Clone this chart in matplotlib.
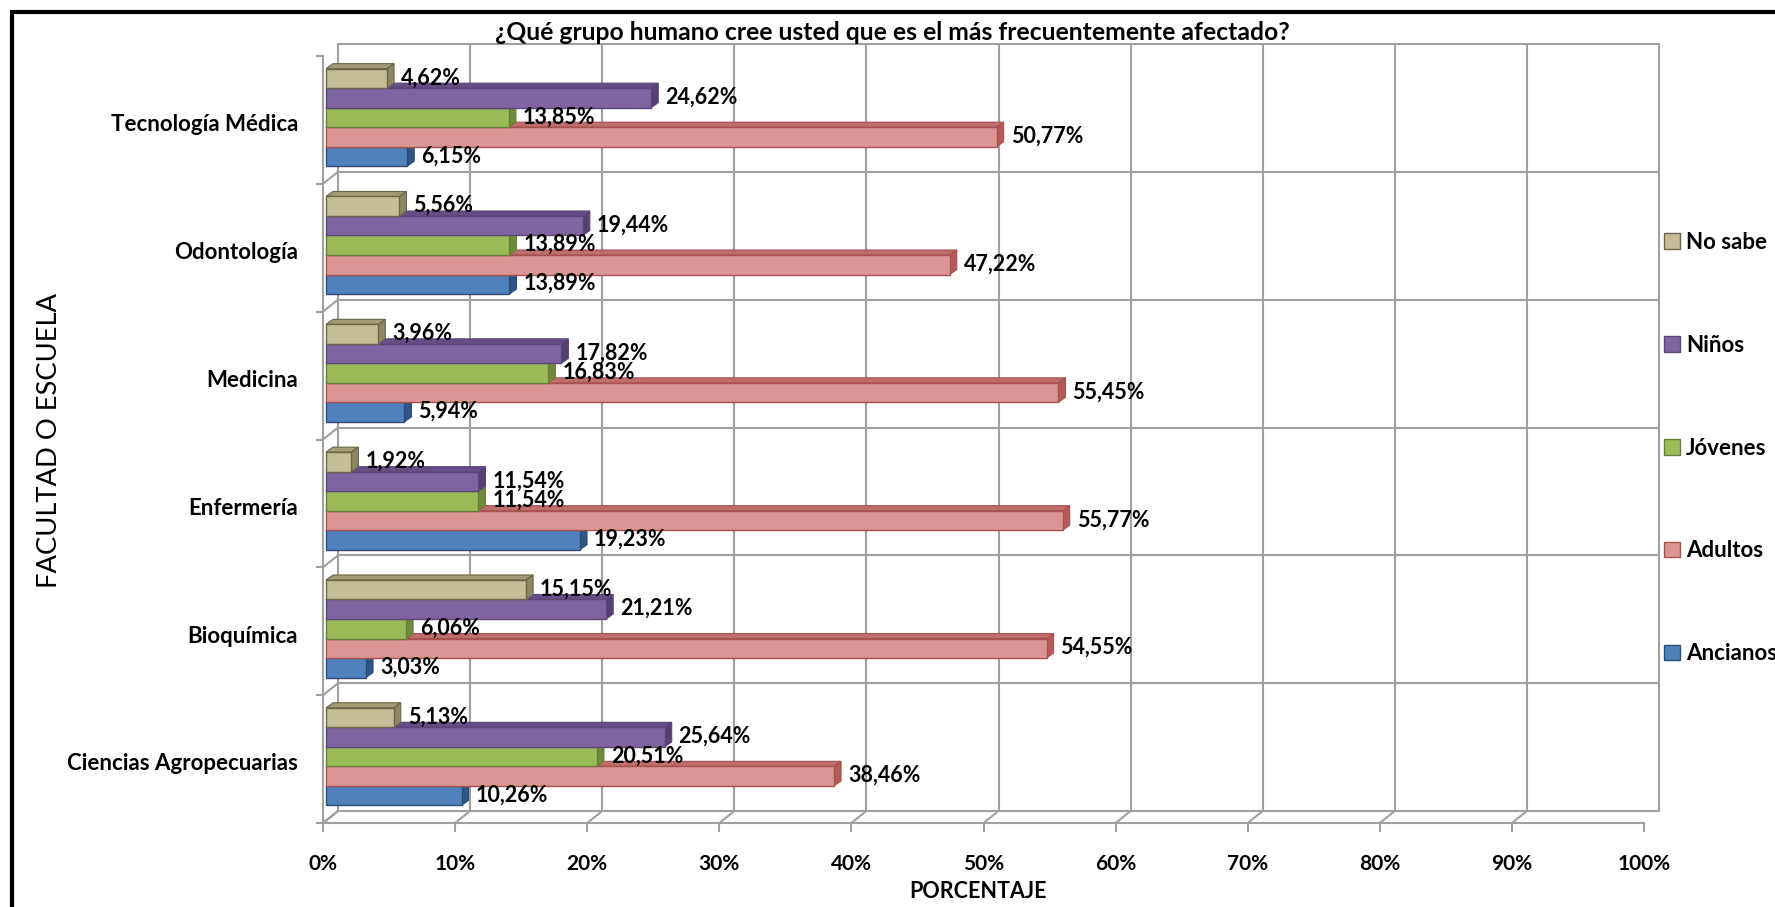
import numpy as np
import matplotlib
matplotlib.use("Agg")
import matplotlib.pyplot as plt
from matplotlib.transforms import ScaledTranslation, IdentityTransform
from matplotlib.patches import Polygon, Patch, Rectangle
from matplotlib.lines import Line2D

plt.rcParams['font.family'] = ['Lato', 'DejaVu Sans']

# ---- data -------------------------------------------------------------
categories = ['Ciencias Agropecuarias', 'Bioquímica', 'Enfermería',
              'Medicina', 'Odontología', 'Tecnología Médica']
series_names = ['Ancianos', 'Adultos', 'Jóvenes', 'Niños', 'No sabe']
ancianos = [10.26, 3.03, 19.23, 5.94, 13.89, 6.15]
adultos = [38.46, 54.55, 55.77, 55.45, 47.22, 50.77]
jovenes = [20.51, 6.06, 11.54, 16.83, 13.89, 13.85]
ninos = [25.64, 21.21, 11.54, 17.82, 19.44, 24.62]
no_sabe = [5.13, 15.15, 1.92, 3.96, 5.56, 4.62]
x_ticks = list(range(0, 101, 10))

title = '¿Qué grupo humano cree usted que es el más frecuentemente afectado?'
x_label = 'PORCENTAJE'
y_label = 'FACULTAD O ESCUELA'

# ---- styling ----------------------------------------------------------
face_colors = ['#4F81BD', '#D99694', '#9BBB59', '#8064A2', '#C4BD97']
edge_colors = ['#2C4D75', '#A8514E', '#66803A', '#5B4777', '#6B6549']
top_colors = ['#3F6A9E', '#BE6E6C', '#7E9C45', '#654D86', '#A29B74']
side_colors = ['#2F5585', '#B35B58', '#6F8A3C', '#553F73', '#8E8763']
grid_color = '#A0A0A0'
label_fs = 15.5

W, H, DPI = 1775, 907, 100
fig = plt.figure(figsize=(W / DPI, H / DPI), dpi=DPI)
fig.patch.set_facecolor('white')

# front plane of the 3-D plot box (pixels)
x0, x1 = 323, 1644
y_bot, y_top = 823, 56
ax = fig.add_axes([x0 / W, (H - y_bot) / H, (x1 - x0) / W, (y_bot - y_top) / H])
ax.set_xlim(0, 100)
ax.set_ylim(-0.5, len(categories) - 0.5)
ax.patch.set_alpha(0)
for s in ['top', 'right']:
    ax.spines[s].set_visible(False)
for s in ['left', 'bottom']:
    ax.spines[s].set_color(grid_color)
    ax.spines[s].set_linewidth(1.5)


def px(dx, dy):
    return ScaledTranslation(dx / DPI, dy / DPI, fig.dpi_scale_trans)


back_dx, back_dy = 15, 12          # depth of the plot box
bar_dx, bar_dy = 3, 2.5            # bar front plane behind the box front
depth_dx, depth_dy = 7, 5          # depth of each bar
back_tr = ax.transData + px(back_dx, back_dy)
bar_tr = ax.transData + px(bar_dx, bar_dy)

n_cat = len(categories)
bounds = np.arange(n_cat + 1) - 0.5

# back wall grid
for xv in x_ticks:
    ax.plot([xv, xv], [bounds[0], bounds[-1]], color=grid_color, lw=1.5,
            transform=back_tr, zorder=1, clip_on=False, solid_capstyle='butt')
for yv in bounds:
    ax.plot([0, 100], [yv, yv], color=grid_color, lw=1.5,
            transform=back_tr, zorder=1, clip_on=False)


def diag(xv, yv):
    p0 = ax.transData.transform((xv, yv))
    p1 = back_tr.transform((xv, yv))
    ax.add_line(Line2D([p0[0], p1[0]], [p0[1], p1[1]], color=grid_color,
                       lw=1.5, transform=IdentityTransform(), zorder=1))


# floor and side wall edges
for xv in x_ticks:
    diag(xv, bounds[0])
for yv in bounds:
    diag(0, yv)

# ticks
ax.set_xticks(x_ticks)
ax.set_xticklabels([f'{v}%' for v in x_ticks])
ax.tick_params(axis='x', length=6.5, width=1.5, color=grid_color,
               labelsize=15, pad=16)
ax.set_yticks(bounds)
ax.set_yticklabels([])
ax.tick_params(axis='y', which='major', length=5, width=1.5, color=grid_color)
for lab in ax.get_xticklabels():
    lab.set_fontweight('bold')

# category names beside the side wall
for i, name in enumerate(categories):
    ax.annotate(name, xy=(0, i), xycoords=ax.get_yaxis_transform(),
                xytext=(-18, -3.5), textcoords='offset points',
                ha='right', va='center', fontsize=16, fontweight='bold')

# ---- 3-D bars ---------------------------------------------------------
values = [ancianos, adultos, jovenes, ninos, no_sabe]
bar_h = 0.1526
idx = np.arange(n_cat)
for i, vals in enumerate(values):
    ys = idx + (i - 2) * bar_h
    z = 3 + i * 0.1
    ax.barh(ys, vals, height=bar_h, color=face_colors[i],
            edgecolor=edge_colors[i], linewidth=1.0, transform=bar_tr,
            zorder=z + 0.02)
    for yc, v in zip(ys, vals):
        tr_ = bar_tr.transform((v, yc + bar_h / 2))
        br = bar_tr.transform((v, yc - bar_h / 2))
        tl = bar_tr.transform((0, yc + bar_h / 2))
        top = Polygon([tl, tr_, tr_ + (depth_dx, depth_dy), tl + (depth_dx, depth_dy)],
                      closed=True, facecolor=top_colors[i], edgecolor=edge_colors[i],
                      lw=0.8, transform=IdentityTransform(), zorder=z)
        side = Polygon([br, tr_, tr_ + (depth_dx, depth_dy), br + (depth_dx, depth_dy)],
                       closed=True, facecolor=side_colors[i], edgecolor=edge_colors[i],
                       lw=0.8, transform=IdentityTransform(), zorder=z + 0.01)
        ax.add_patch(top)
        ax.add_patch(side)
        lbl = f'{v:.2f}%'.replace('.', ',')
        ax.annotate(lbl, xy=(v, yc), xycoords=bar_tr, xytext=(10, 0.5),
                    textcoords='offset points', ha='left', va='center',
                    fontsize=label_fs, fontweight='bold', color='black', zorder=10)

# ---- titles and labels ------------------------------------------------
fig.text(892 / W, 1 - 33 / H, title, ha='center', va='center',
         fontsize=17.8, fontweight='bold')
fig.text(978 / W, 1 - 891 / H, x_label, ha='center', va='center',
         fontsize=15.5, fontweight='bold')
fig.text(50 / W, 1 - 441 / H, y_label, ha='center', va='center',
         rotation=90, fontsize=19.7)

# ---- legend -----------------------------------------------------------
order = [4, 3, 2, 1, 0]
handles = [Patch(facecolor=face_colors[k], edgecolor=edge_colors[k], lw=1.0)
           for k in order]
leg = fig.legend(handles, [series_names[k] for k in order],
                 loc='upper left', bbox_to_anchor=(1664 / W, 1 - 232 / H),
                 frameon=False, fontsize=16, handlelength=0.7,
                 handleheight=0.7, handletextpad=0.3, labelspacing=3.68,
                 borderpad=0, borderaxespad=0)
for t in leg.get_texts():
    t.set_fontweight('bold')

# outer frame
fig.add_artist(Rectangle((12 / W, -0.5), 2.0, 0.5 + 1 - 12 / H,
                         transform=fig.transFigure, fill=False,
                         edgecolor='black', lw=3))

fig.savefig('out.png', dpi=DPI)
